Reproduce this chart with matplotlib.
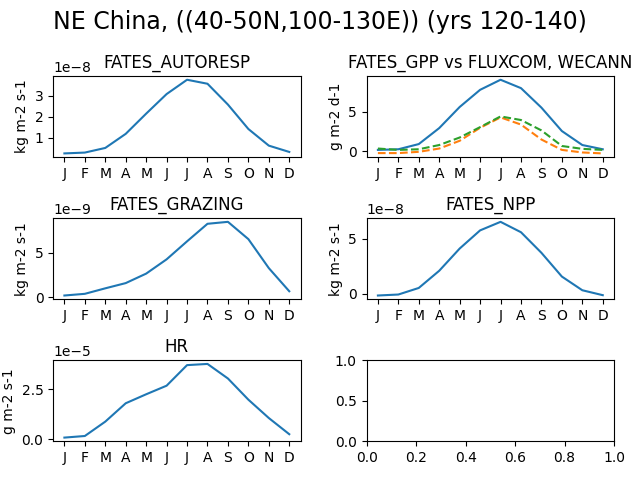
import numpy as np
import matplotlib
matplotlib.use("Agg")
import matplotlib.pyplot as plt

# ---- Monthly climatologies
months = ["J", "F", "M", "A", "M", "J", "J", "A", "S", "O", "N", "D"]

autoresp = np.array([0.26, 0.30, 0.52, 1.19, 2.15, 3.08, 3.76, 3.57, 2.58, 1.42, 0.63, 0.33]) * 1e-8
gpp_fates = [0.20, 0.28, 0.93, 2.93, 5.57, 7.72, 8.98, 7.93, 5.49, 2.56, 0.81, 0.28]
gpp_fluxcom = [-0.20, -0.20, -0.04, 0.37, 1.34, 2.97, 4.27, 3.37, 1.50, 0.20, -0.12, -0.24]
gpp_wecann = [0.37, 0.20, 0.28, 0.81, 1.75, 3.05, 4.39, 3.94, 2.64, 0.69, 0.33, 0.20]
grazing = np.array([0.18, 0.37, 0.99, 1.58, 2.65, 4.26, 6.29, 8.27, 8.49, 6.54, 3.27, 0.66]) * 1e-9
npp = np.array([-0.18, -0.09, 0.51, 2.08, 4.11, 5.77, 6.55, 5.60, 3.72, 1.55, 0.30, -0.15]) * 1e-8
hr = np.array([0.08, 0.16, 0.88, 1.80, 2.25, 2.68, 3.71, 3.77, 3.04, 1.98, 1.06, 0.25]) * 1e-5

x = np.arange(12)

fig, axes = plt.subplots(3, 2, figsize=(6.4, 4.8), dpi=100)
fig.suptitle("NE China, ((40-50N,100-130E)) (yrs 120-140)", fontsize=17)

# ---- Single-variable panels
panels = [
    (axes[0, 0], autoresp, "FATES_AUTORESP", "kg m-2 s-1"),
    (axes[1, 0], grazing, "FATES_GRAZING", "kg m-2 s-1"),
    (axes[1, 1], npp, "FATES_NPP", "kg m-2 s-1"),
    (axes[2, 0], hr, "HR", "g m-2 s-1"),
]
for ax, vals, title, units in panels:
    ax.plot(x, vals)
    ax.set_title(title)
    ax.set_ylabel(units)
    ax.set_xticks(x)
    ax.set_xticklabels(months)

# ---- GPP vs observations
ax = axes[0, 1]
ax.plot(x, gpp_fates)
ax.plot(x, gpp_fluxcom, "--")
ax.plot(x, gpp_wecann, "--")
ax.set_title("FATES_GPP vs FLUXCOM, WECANN")
ax.set_ylabel("g m-2 d-1")
ax.set_xticks(x)
ax.set_xticklabels(months)

plt.tight_layout()
plt.savefig("out.png")
